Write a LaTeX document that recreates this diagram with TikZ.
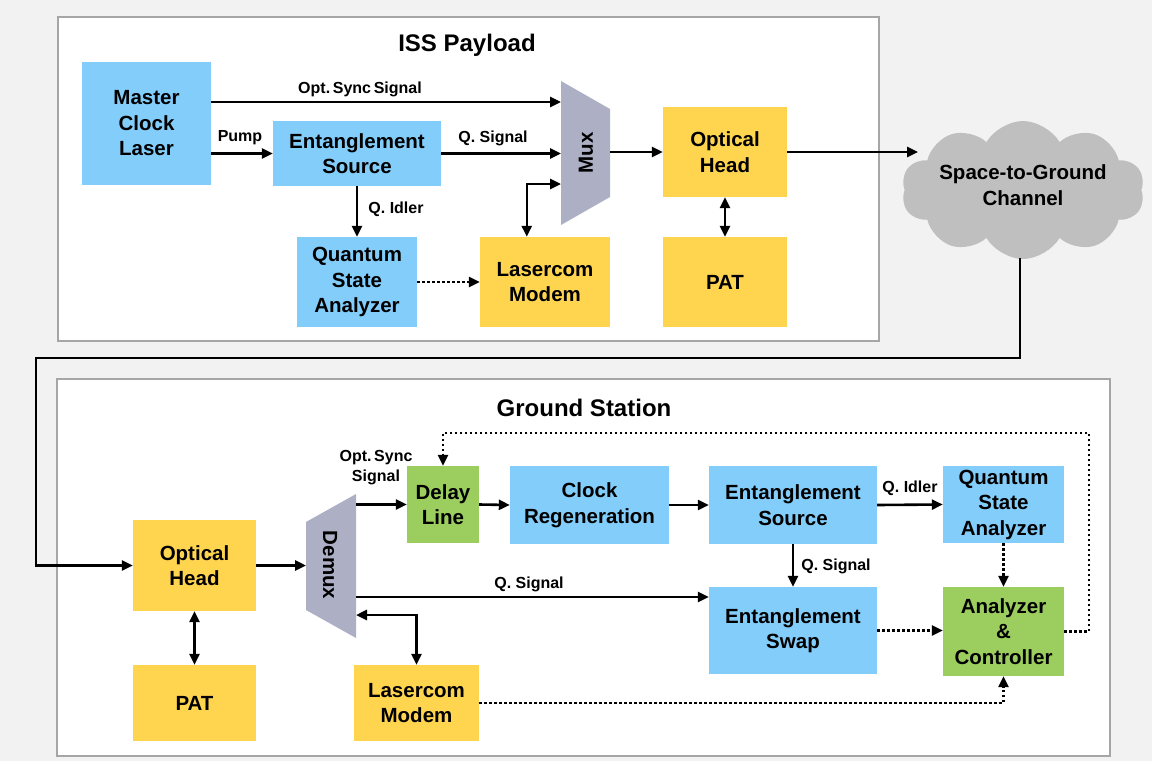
\documentclass[tikz,border=0pt]{standalone}
\usepackage{fontspec}
\setmainfont{Liberation Sans}
\usetikzlibrary{arrows.meta,shapes.symbols,calc}
\definecolor{bgc}{HTML}{F2F2F2}
\definecolor{panelc}{HTML}{A6A6A6}
\definecolor{bluec}{HTML}{83CDFB}
\definecolor{yelc}{HTML}{FFD550}
\definecolor{grnc}{HTML}{9BCE5E}
\definecolor{muxc}{HTML}{ADB0C5}
\definecolor{cloudc}{HTML}{BFBFBF}
\newcommand{\boxfnt}{\fontsize{20.5}{25.5}\selectfont\bfseries}
\newcommand{\lblfnt}{\fontsize{16}{20}\selectfont\bfseries}
\newcommand{\ttlfnt}{\fontsize{24}{28}\selectfont\bfseries}
\begin{document}
\begin{tikzpicture}[x=1pt,y=-1pt,
  blk/.style={rectangle,inner sep=0pt,align=center,font=\boxfnt,text=black},
  bbox/.style={blk,fill=bluec},
  ybox/.style={blk,fill=yelc},
  gbox/.style={blk,fill=grnc},
  lbl/.style={font=\lblfnt,text=black,inner sep=0pt,align=center},
  ttl/.style={font=\ttlfnt,text=black,inner sep=0pt},
  conn/.style={line width=2.6pt,draw=black},
  arr/.style={conn,-{Triangle[length=11pt,width=10pt]}},
  darr/.style={conn,{Triangle[length=11pt,width=10pt]}-{Triangle[length=11pt,width=10pt]}},
  dotarr/.style={conn,dash pattern=on 2.6pt off 2.4pt,-{Triangle[length=11pt,width=10pt]}},
  panel/.style={draw=panelc,line width=1.8pt,fill=white}
]
\useasboundingbox (0,0) rectangle (1152,761);
\fill[bgc] (0,0) rectangle (1152,761);

% panels
\node[panel,minimum width=821pt,minimum height=324pt,inner sep=0pt] (iss) at (468.5,179) {};
\node[panel,minimum width=1053pt,minimum height=377pt,inner sep=0pt] (gs) at (583.5,567.5) {};
\node[ttl] (isst) at (467,45) {ISS Payload};
\node[ttl] (gst) at (584,408) {Ground Station};

% ---------- ISS payload ----------
\node[bbox,minimum width=129pt,minimum height=123pt] (mcl) at (146.5,123.5) {Master\\Clock\\Laser};
\node[bbox,minimum width=168pt,minimum height=65pt] (es1) at (357,153.5) {Entanglement\\Source};
\node[bbox,minimum width=120pt,minimum height=90pt] (qsa1) at (357,282) {Quantum\\State\\Analyzer};
\node[ybox,minimum width=130pt,minimum height=90pt] (lm1) at (545,282) {Lasercom\\Modem};
\node[ybox,minimum width=124pt,minimum height=90pt] (oh1) at (725,152) {Optical\\Head};
\node[ybox,minimum width=124pt,minimum height=90pt] (pat1) at (725,282) {PAT};

\fill[muxc] (561,81) -- (610,109) -- (610,197) -- (561,225) -- cycle;
\node[font=\boxfnt,rotate=90,inner sep=0pt] (mux) at (586,153) {Mux};
\coordinate (muxA) at (561,102);
\coordinate (muxB) at (561,153.5);
\coordinate (muxC) at (561,184);
\coordinate (muxD) at (610,152);

\node[cloud,cloud puffs=10,cloud puff arc=120,aspect=1.75,fill=cloudc,draw=none,
      minimum width=243pt,minimum height=138pt,inner sep=0pt] (cl) at (1023,190) {};
\node[blk] (clt) at (1023,185) {Space-to-Ground\\Channel};
\coordinate (clin) at (918,152);
\coordinate (clout) at (1020,258);

\draw[arr] (mcl.east |- muxA) -- (muxA);
\node[lbl] (l1) at (360,89) {Opt.\,Sync\,Signal};
\draw[arr] (mcl.east |- es1.west) -- (es1.west);
\node[lbl] (l2) at (240,138) {Pump};
\draw[arr] (es1.east) -- (muxB);
\node[lbl] (l3) at (493,138) {Q. Signal};
\draw[arr] (es1.south) -- (qsa1.north);
\node[lbl] (l4) at (396,209) {Q. Idler};
\draw[dotarr] (qsa1.east) -- (lm1.west);
\draw[darr] ($(lm1.north west)+(47,0)$) |- (muxC);
\draw[arr] (muxD) -- (oh1.west);
\draw[darr] (oh1.south) -- (pat1.north);
\draw[arr] (oh1.east) -- (oh1.east -| clin);

% ---------- Ground station ----------
\node[ybox,minimum width=123pt,minimum height=91pt] (oh2) at (194.5,565.5) {Optical\\Head};
\node[ybox,minimum width=123pt,minimum height=76pt] (pat2) at (194.5,703) {PAT};
\node[gbox,minimum width=72pt,minimum height=77pt] (dl) at (443,504.5) {Delay\\Line};
\node[bbox,minimum width=159pt,minimum height=78pt] (cr) at (589.5,505) {Clock\\Regeneration};
\node[bbox,minimum width=168pt,minimum height=78pt] (es2) at (793,505) {Entanglement\\Source};
\node[bbox,minimum width=121pt,minimum height=77pt] (qsa2) at (1003.5,504.5) {Quantum\\State\\Analyzer};
\node[bbox,minimum width=168pt,minimum height=87pt] (sw) at (793,630.5) {Entanglement\\Swap};
\node[gbox,minimum width=121pt,minimum height=89pt] (ac) at (1003.5,631.5) {Analyzer\\\&\\Controller};
\node[ybox,minimum width=125pt,minimum height=76pt] (lm2) at (416.5,703) {Lasercom\\Modem};

\fill[muxc] (306,522) -- (356,494) -- (356,638) -- (306,610) -- cycle;
\node[font=\boxfnt,rotate=-90,inner sep=0pt] (dmx) at (330,565) {Demux};
\coordinate (dmIn) at (306,565.5);
\coordinate (dmA) at (356,504.5);
\coordinate (dmB) at (356,597);
\coordinate (dmC) at (356,615);

% channel to ground
\draw[arr] (clout) |- (36,358) |- (oh2.west);

\draw[arr] (oh2.east) -- (dmIn);
\draw[darr] (oh2.south) -- (pat2.north);
\draw[arr] (dmA) -- (dl.west);
\node[lbl] (l5) at (376,468) {Opt.\,Sync\\Signal};
\draw[arr] (dl.east) -- (cr.west);
\draw[arr] (cr.east) -- (es2.west);
\draw[arr] (es2.east) -- (qsa2.west);
\node[lbl] (l6) at (910,488) {Q. Idler};
\draw[arr] (es2.south) -- (sw.north);
\node[lbl] (l7) at (836,566) {Q. Signal};
\draw[arr] (dmB) -- (dmB -| sw.west);
\node[lbl] (l8) at (529,584) {Q. Signal};
\draw[darr] (dmC) -| (lm2.north);
\draw[dotarr] (qsa2.south) -- (ac.north);
\draw[dotarr] (sw.east) -- (sw.east -| ac.west);
\draw[dotarr] (lm2.east) -| (ac.south);
\draw[dotarr] (ac.east) -| (1089,433) -| (dl.north);
\end{tikzpicture}
\end{document}
